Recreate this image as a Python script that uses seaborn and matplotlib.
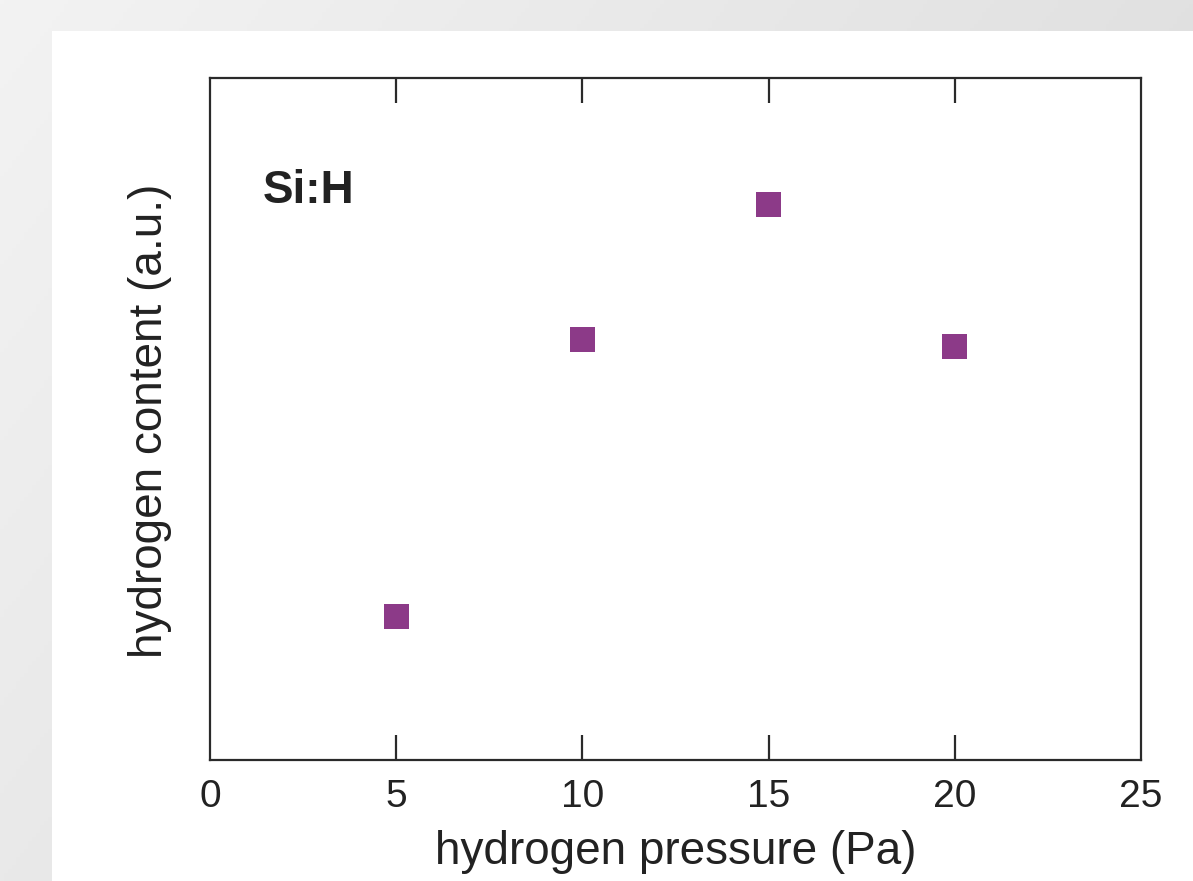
import numpy as np
import pandas as pd
import matplotlib
matplotlib.use("Agg")
import matplotlib.pyplot as plt
import seaborn as sns

# Hydrogen content of Si:H films versus hydrogen pressure
pressure_pa = [5, 10, 15, 20]
hydrogen_content = [0.210, 0.617, 0.815, 0.607]
x_tick_values = [0, 5, 10, 15, 20, 25]
x_tick_labels = ["0", "5", "10", "15", "20", "25"]

df = pd.DataFrame({"pressure": pressure_pa, "content": hydrogen_content})

sns.set_theme(style="white")
plt.rcParams["font.family"] = ["Liberation Sans", "DejaVu Sans"]

W, H = 1193, 881
fig = plt.figure(figsize=(W / 100, H / 100), dpi=100)

# light grey slide background, darkening toward the right and the bottom
bg = fig.add_axes([0, 0, 1, 1], zorder=-10)
gx, gy = np.meshgrid(np.linspace(0, 1, 300), np.linspace(0, 1, 220))
shade = (0xf3 - 0x12 * gx - 0x0a * gy) / 255.0
bg.imshow(np.dstack([shade, shade, shade]), aspect="auto", extent=[0, 1, 0, 1],
          origin="upper")
# white panel holding the plot
bg.add_patch(plt.Rectangle((52 / W, 0), 1, (H - 31) / H, color="white", lw=0))
bg.set_xlim(0, 1)
bg.set_ylim(0, 1)
bg.axis("off")

ax = fig.add_axes([210 / W, (H - 760) / H, (1141 - 210) / W, (760 - 78) / H])
ax.set_facecolor("white")

sns.scatterplot(data=df, x="pressure", y="content", marker="s", s=324,
                color="#8c3a88", edgecolor="none", ax=ax, zorder=3)

ax.set_xlim(0, 25)
ax.set_ylim(0, 1)
ax.set_xticks(x_tick_values)
ax.set_xticklabels(x_tick_labels)
ax.set_yticks([])

ink = "#2a2a2a"
for side in ["left", "right", "top", "bottom"]:
    ax.spines[side].set_visible(True)
    ax.spines[side].set_color(ink)
    ax.spines[side].set_linewidth(1.6)

ax.tick_params(axis="x", which="both", direction="in", length=18, width=1.6,
               color=ink, top=True, bottom=True, labelsize=28,
               labelcolor="#222222", pad=14)
# no tick marks at the plot edges (0 and 25)
for t in (ax.xaxis.get_major_ticks()[0], ax.xaxis.get_major_ticks()[-1]):
    t.tick1line.set_visible(False)
    t.tick2line.set_visible(False)

ax.set_xlabel("hydrogen pressure (Pa)", fontsize=33, color="#222222")
ax.xaxis.set_label_coords(0.5, -0.103)
ax.set_ylabel("hydrogen content (a.u.)", fontsize=33, color="#222222")
ax.yaxis.set_label_coords(-0.041, 0.497)

ax.text(0.057, 0.835, "Si:H", transform=ax.transAxes, fontsize=33,
        fontweight="bold", color="#222222", va="center", ha="left")

fig.savefig("out.png", dpi=100)
